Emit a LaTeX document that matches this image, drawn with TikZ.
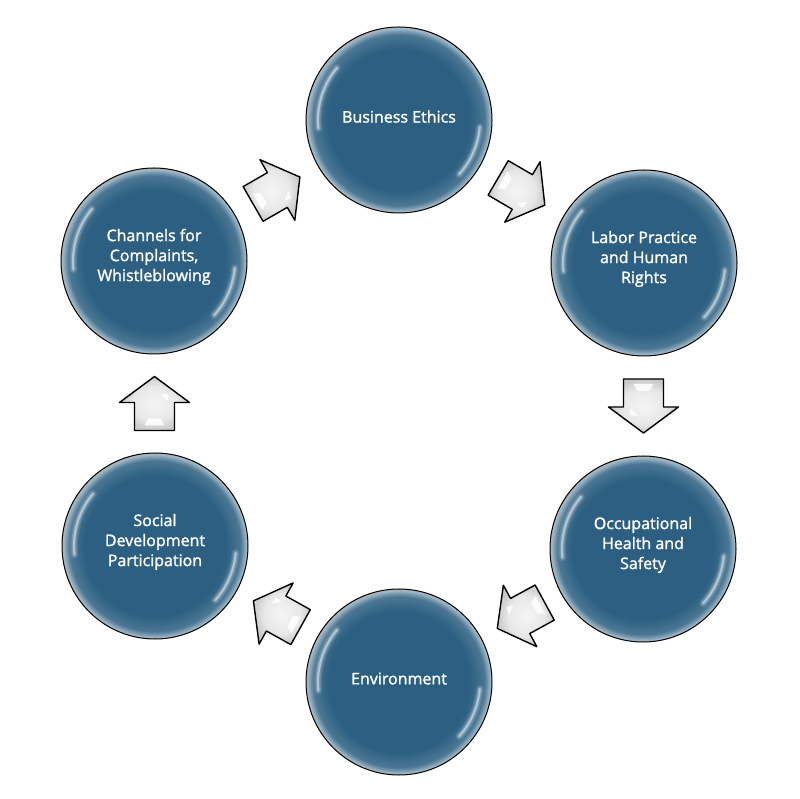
\documentclass[tikz,border=0pt]{standalone}
\usepackage{fontspec}
\setmainfont{Open Sans}
\newfontfamily\temafont[FakeBold=1.5]{Open Sans}
\usetikzlibrary{shapes, arrows, positioning, calc}
\definecolor{azul}{RGB}{44,95,129}
\pgfdeclareradialshading{bola}{\pgfpoint{0bp}{0bp}}{color(0bp)=(azul); color(19bp)=(azul); color(23bp)=(azul!85!white); color(24.6bp)=(azul!45!white); color(25bp)=(gray!60); color(50bp)=(gray!60)}
\pgfdeclareradialshading{gris}{\pgfpoint{0bp}{0bp}}{color(0bp)=(gray!8); color(16bp)=(gray!18); color(25bp)=(gray!42); color(50bp)=(gray!42)}
\tikzstyle{tema} = [circle, draw=black, line width=1pt, shading=bola, minimum size=186pt, inner sep=0pt, text=white, align=center, font=\temafont\fontsize{16}{20}\selectfont]
\tikzstyle{bloque} = [draw=black, line width=1.4pt, line join=round, shading=gris]
\tikzstyle{destello} = [fill=white, opacity=0.85]
\tikzset{flecha/.pic={
	\path[bloque] (-27,-20) -- (1,-20) -- (1,-35) -- (27,0) -- (1,35) -- (1,20) -- (-27,20) -- cycle;
	\path[destello] (-22,-10) -- (-22,10) -- (-15,6) -- (-15,-6) -- cycle;
	\path[destello] (2,-13) -- (10,-6) -- (9,-14) -- cycle;}}
\newcommand{\brillo}[1]{%
  \foreach \w/\o in {8/0.10, 5/0.18, 2.2/0.45}{
    \draw[white, opacity=\o, line width=\w pt, line cap=round] ([shift={(140:81)}]#1.center) arc[start angle=140, end angle=186, radius=81];
    \draw[white, opacity=\o, line width=\w pt, line cap=round] ([shift={(-5:81)}]#1.center) arc[start angle=-5, end angle=-42, radius=81];
  }}

\begin{document}
\begin{tikzpicture}[x=1pt, y=1pt]
	\useasboundingbox[fill=white] (0,0) rectangle (800,798);
	\node [tema] (ethics) at (399,678) {Business Ethics\\[-13pt]};
	\node [tema] (labor) at (644,535) {Labor Practice\\and Human\\Rights\\[-8pt]};
	\node [tema] (health) at (643,249) {Occupational\\Health and\\Safety\\[-8pt]};
	\node [tema] (environment) at (399,116) {Environment\\[-13pt]};
	\node [tema] (social) at (155,252) {Social\\Development\\Participation\\[-8pt]};
	\node [tema] (channels) at (154,537) {Channels for\\Complaints,\\Whistleblowing\\[-8pt]};
	\foreach \n in {ethics, labor, health, environment, social, channels}{\brillo{\n}}
	\pic[rotate=-30.3] at ($(ethics)!0.5!(labor)$) {flecha};
	\pic[rotate=-90] at ($(labor)!0.5!(health)$) {flecha};
	\pic[rotate=-151.4] at ($(health)!0.5!(environment)$) {flecha};
	\pic[rotate=150.9] at ($(environment)!0.5!(social)$) {flecha};
	\pic[rotate=90] at ($(social)!0.5!(channels)$) {flecha};
	\pic[rotate=29.9] at ($(channels)!0.5!(ethics)$) {flecha};
\end{tikzpicture}
\end{document}
